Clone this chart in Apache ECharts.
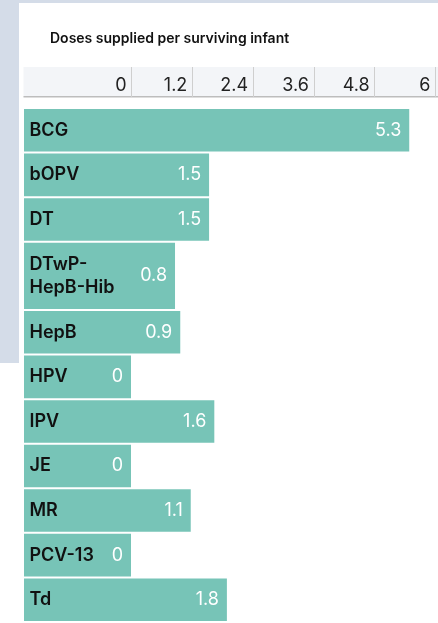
<!DOCTYPE html>
<html><head><meta charset="utf-8">
<script src="https://cdn.jsdelivr.net/npm/echarts@6/dist/echarts.min.js"></script>
<style>html,body{margin:0;padding:0;background:#fff}#c{width:438px;height:623px}</style>
</head><body><div id="c"></div>
<script>
// ---- data ----
const chartTitle = 'Doses supplied per surviving infant';
const categories = ['BCG', 'bOPV', 'DT', 'DTwP-HepB-Hib', 'HepB', 'HPV', 'IPV', 'JE', 'MR', 'PCV-13', 'Td'];
const values = [5.31, 1.49, 1.49, 0.84, 0.94, 0, 1.59, 0, 1.14, 0, 1.83];
const axisMin = 0, axisMax = 6, axisInterval = 1.2;

// ---- style constants ----
const FONT = 'Inter, "Noto Sans", "Liberation Sans", sans-serif';
const BAR_COLOR = '#77c4b7';
const ROW_PX = 45;           // pixel pitch of a one-line row
const EXTRA_LINE_PX = 24;    // extra height per additional label line
const ROW_GAP = 2;
const LABEL_COL = 107;       // width of the label column left of zero
const BAR_LEFT = 131, BAR_WIDTH = 307, BAR_PX_PER_UNIT = 52.4;

function wrapLabel(s) { return (s.length > 8 && s.indexOf('-') > 0) ? s.replace('-', '-\n') : s; }
const labels = categories.map(wrapLabel);

let acc = 0;
const rowData = labels.map((lbl, i) => {
  const lines = lbl.split('\n').length;
  const h = 1 + (lines - 1) * EXTRA_LINE_PX / ROW_PX;
  const d = [values[i], acc, acc + h, i];
  acc += h;
  return d;
});
const totalUnits = acc;

function fmt(v) { return String(Number(v.toFixed(1))); }

const chart = echarts.init(document.getElementById('c'), null, { renderer: 'canvas' });
chart.setOption({
  animation: false,
  backgroundColor: '#ffffff',
  title: {
    text: chartTitle, left: 50, top: 32, padding: 0,
    textStyle: { fontSize: 14, fontWeight: 600, color: '#111', fontFamily: FONT }
  },
  graphic: [
    { type: 'rect', z: -10, silent: true, shape: { x: 0, y: 0, width: 438, height: 363 }, style: { fill: '#d4dce8' } },
    { type: 'rect', z: -9, silent: true, shape: { x: 19, y: 3, width: 419, height: 620 }, style: { fill: '#ffffff' } },
    { type: 'rect', z: -8, silent: true, shape: { x: 23.5, y: 67, width: 415, height: 30 }, style: { fill: '#f3f5f8' } },
    { type: 'rect', z: -7, silent: true, shape: { x: 23.5, y: 96, width: 415, height: 1.5 }, style: { fill: '#bdbdbd' } }
  ],
  grid: [
    { left: 131.5, top: 67, width: 304, height: 30 },
    { left: BAR_LEFT, width: BAR_WIDTH, top: 109, height: totalUnits * ROW_PX }
  ],
  xAxis: [
    {
      gridIndex: 0, type: 'value', min: axisMin, max: axisMax, interval: axisInterval, position: 'bottom',
      axisLine: { show: false },
      axisTick: { show: true, inside: true, length: 30, lineStyle: { color: '#cfcfcf', width: 1 } },
      splitLine: { show: false },
      axisLabel: {
        inside: true, align: 'right', verticalAlign: 'middle', margin: 11, padding: [0, 5, 0, 0],
        fontSize: 18, color: '#222', fontFamily: FONT,
        formatter: v => String(Number(v.toFixed(1)))
      }
    },
    { gridIndex: 1, type: 'value', min: 0, max: BAR_WIDTH / BAR_PX_PER_UNIT, show: false }
  ],
  yAxis: [
    { gridIndex: 0, type: 'value', show: false },
    { gridIndex: 1, type: 'value', min: 0, max: totalUnits, inverse: true, show: false }
  ],
  series: [{
    type: 'custom',
    xAxisIndex: 1, yAxisIndex: 1,
    clip: false,
    encode: { x: 0, y: [1, 2] },
    data: rowData,
    renderItem: function (params, api) {
      const v = api.value(0), s = api.value(1), e = api.value(2), i = api.value(3);
      const p0 = api.coord([0, s]);
      const p1 = api.coord([v, e]);
      const x0 = params.coordSys.x - LABEL_COL;
      const x1 = p1[0];
      const y0 = p0[1], y1 = p1[1] - ROW_GAP;
      const mid = (y0 + y1) / 2;
      return {
        type: 'group',
        children: [
          { type: 'rect', shape: { x: x0, y: y0, width: x1 - x0, height: y1 - y0 }, style: { fill: BAR_COLOR } },
          { type: 'text', style: { text: labels[i], x: x0 + 5.5, y: mid, align: 'left', verticalAlign: 'middle',
              fill: '#111', fontSize: 18, fontWeight: 600, fontFamily: FONT, lineHeight: 23 } },
          { type: 'text', style: { text: fmt(v), x: x1 - 8, y: mid, align: 'right', verticalAlign: 'middle',
              fill: '#ffffff', fontSize: 18, fontWeight: 400, fontFamily: FONT } }
        ]
      };
    }
  }]
});
</script>
</body></html>
